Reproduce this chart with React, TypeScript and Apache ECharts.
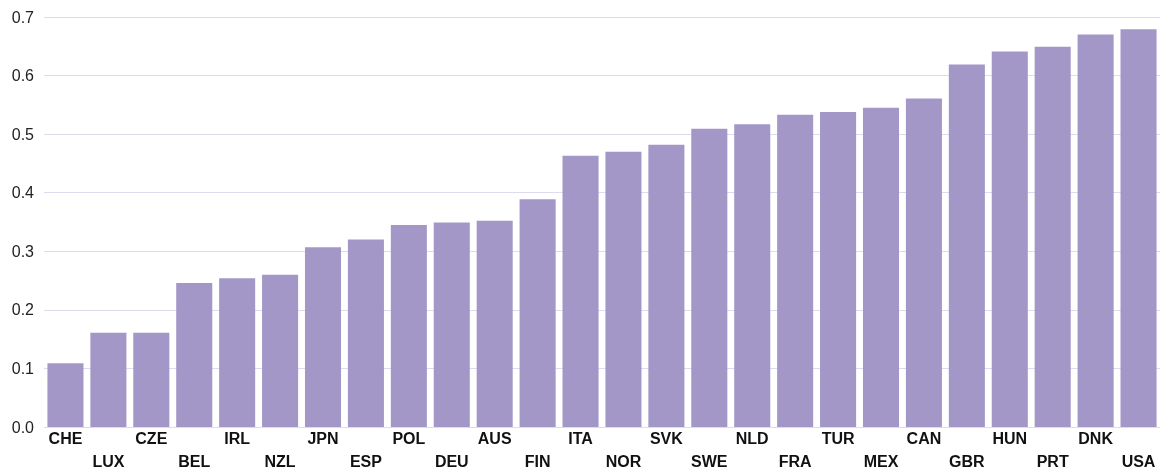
import React, { useEffect, useRef } from "react";
import * as echarts from "echarts";

const categories = ["CHE","LUX","CZE","BEL","IRL","NZL","JPN","ESP","POL","DEU","AUS","FIN","ITA","NOR","SVK","SWE","NLD","FRA","TUR","MEX","CAN","GBR","HUN","PRT","DNK","USA"];
const values = [0.109,0.161,0.161,0.246,0.254,0.26,0.307,0.32,0.345,0.349,0.352,0.389,0.463,0.47,0.482,0.509,0.517,0.533,0.538,0.545,0.561,0.619,0.641,0.649,0.67,0.679];
const yTicks = [0, 0.1, 0.2, 0.3, 0.4, 0.5, 0.6, 0.7];

export default function App() {
  const ref = useRef<HTMLDivElement>(null);
  useEffect(() => {
    if (!ref.current) return;
    const chart = echarts.init(ref.current, undefined, { renderer: "svg" });
    chart.setOption({
      animation: false,
      grid: { left: 44, right: 8, top: 17, bottom: 45, containLabel: false, outerBoundsMode: "none" },
      xAxis: {
        type: "category",
        data: categories,
        axisLine: { show: false },
        axisTick: { show: false },
        axisLabel: {
          interval: 0,
          margin: 0,
          fontFamily: "Liberation Sans, Arial, sans-serif",
          fontWeight: "bold",
          fontSize: 16,
          color: "#111",
          lineHeight: 23,
          hideOverlap: false,
          formatter: (v: string, i: number) => (i % 2 === 1 ? "\n" + v : v),
        },
      },
      yAxis: {
        type: "value",
        min: yTicks[0],
        max: yTicks[yTicks.length - 1],
        interval: 0.1,
        axisLine: { show: false },
        axisTick: { show: false },
        axisLabel: {
          margin: 10,
          fontFamily: "Liberation Sans, Arial, sans-serif",
          fontSize: 16,
          color: "#222",
          formatter: (v: number) => v.toFixed(1),
        },
        splitLine: { lineStyle: { color: "#dedaf0", width: 1 } },
      },
      series: [
        {
          type: "bar",
          data: values,
          barCategoryGap: "16%",
          itemStyle: { color: "#a397c8" },
        },
      ],
    });
    return () => chart.dispose();
  }, []);
  return <div ref={ref} style={{ position: "fixed", left: 0, top: 0, width: 1168, height: 472 }} />;
}
